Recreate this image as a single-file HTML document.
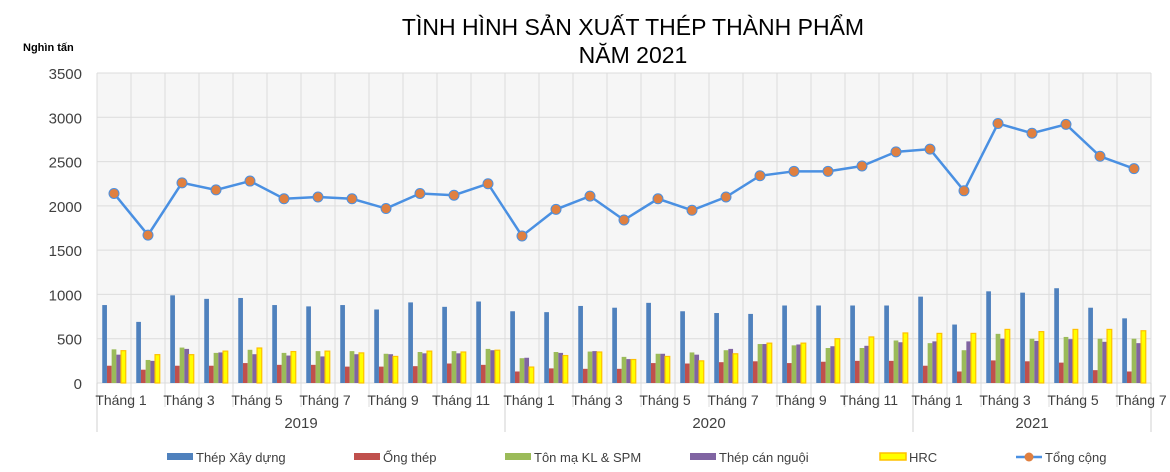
<!DOCTYPE html>
<html><head><meta charset="utf-8">
<style>
html,body{margin:0;padding:0;background:#fff;}
svg{display:block;font-family:"Liberation Sans",Arial,sans-serif;}
</style></head>
<body>
<svg id="chart" width="1170" height="472" viewBox="0 0 1170 472">
<text x="633" y="35" text-anchor="middle" font-size="23" fill="#000">TÌNH HÌNH SẢN XUẤT THÉP THÀNH PHẨM</text>
<text x="633" y="63" text-anchor="middle" font-size="23" fill="#000">NĂM 2021</text>
<text x="23" y="51" font-size="11" font-weight="bold" fill="#000">Nghìn tấn</text>
<rect x="97" y="73" width="1054" height="310" fill="#f6f6f6"/>
<g id="grid"></g><g id="bars"></g><g id="line"></g><g id="axes"></g><g id="legend"></g>
</svg>
<script>
const months = ["Tháng 1","Tháng 2","Tháng 3","Tháng 4","Tháng 5","Tháng 6","Tháng 7","Tháng 8","Tháng 9","Tháng 10","Tháng 11","Tháng 12","Tháng 1","Tháng 2","Tháng 3","Tháng 4","Tháng 5","Tháng 6","Tháng 7","Tháng 8","Tháng 9","Tháng 10","Tháng 11","Tháng 12","Tháng 1","Tháng 2","Tháng 3","Tháng 4","Tháng 5","Tháng 6","Tháng 7"];
const years = ["2019","2020","2021"];
const yearCounts = [12,12,7];
const construction = [880,690,990,950,960,880,865,880,830,910,860,920, 810,800,870,850,905,810,790,780,875,875,875,875, 975,660,1035,1020,1070,850,730];
const pipe = [195,150,195,195,225,205,205,185,185,190,220,205, 130,165,160,160,225,220,235,245,225,240,250,250, 195,130,255,245,230,145,130];
const coated = [380,260,400,340,375,340,360,360,330,350,360,385, 280,350,355,295,330,345,370,440,425,395,395,480, 450,370,555,500,520,500,500];
const coldRolled = [320,250,385,345,325,310,300,325,325,335,335,370, 285,340,360,270,330,320,385,440,435,415,420,460, 470,470,500,475,495,465,450];
const hrc = [365,320,320,360,395,355,360,340,300,360,350,370, 180,310,350,265,300,250,330,450,450,500,520,565, 560,560,605,580,605,605,590];
const total = [2140,1670,2260,2180,2280,2080,2100,2080,1970,2140,2120,2250, 1660,1960,2110,1840,2080,1950,2100,2340,2390,2390,2450,2610, 2640,2170,2930,2820,2920,2560,2420];
const yTicks = [0,500,1000,1500,2000,2500,3000,3500];

const NS="http://www.w3.org/2000/svg";
const L=97,R=1151,T=73,B=383,YMAX=3500;
const cw=(R-L)/months.length;
const xC=i=>L+cw*(i+0.5);
const y=v=>B-(v/YMAX)*(B-T);
function mk(tag,attrs,parent,txt){const e=document.createElementNS(NS,tag);for(const k in attrs)e.setAttribute(k,attrs[k]);if(txt!==undefined)e.textContent=txt;parent.appendChild(e);return e;}
const grid=document.getElementById('grid'),bars=document.getElementById('bars'),line=document.getElementById('line'),axes=document.getElementById('axes'),legend=document.getElementById('legend');

yTicks.forEach(t=>{
  const g=mk('line',{x1:L,x2:R,y1:y(t),y2:y(t),stroke:'#dcdcdc','stroke-width':1},grid);
  
  
  const tx=mk('text',{x:82,y:y(t)+6,'text-anchor':'end','font-size':15,fill:'#404040'},axes,String(t));
  
  
});
for(let i=0;i<=months.length;i++){
  const x=L+cw*i;
  const g=mk('line',{x1:x,x2:x,y1:T,y2:407,stroke:'#dcdcdc','stroke-width':1},grid);
  
  
}
let acc=0;
years.forEach((yr,k)=>{
  const x0=L+cw*acc, x1=L+cw*(acc+yearCounts[k]);
  const s=mk('line',{x1:x0,x2:x0,y1:383,y2:432,stroke:'#d0d0d0','stroke-width':1},axes);
  
  
  const t=mk('text',{x:(x0+x1)/2,y:428,'text-anchor':'middle','font-size':15,fill:'#404040'},axes,yr);
  
  
  acc+=yearCounts[k];
});
mk('line',{x1:R,x2:R,y1:383,y2:432,stroke:'#d0d0d0'},axes);
months.forEach((m,i)=>{
  if(i%2===0 && !(i===12 && false)){
    const idx = i<12?i:(i<24?i-12:i-24);
    if(idx%2===0){
      const t=mk('text',{x:xC(i)+7,y:405,'text-anchor':'middle','font-size':14,fill:'#404040'},axes,m);
      
      
    }
  }
});
// handle odd offsets: 2020 starts at index 12 (even), 2021 at 24 (even) - labels every other month
const series=[
  {d:construction,c:'#4f81bd',s:'none',n:'bar-construction'},
  {d:pipe,c:'#c0504d',s:'none',n:'bar-pipe'},
  {d:coated,c:'#9bbb59',s:'none',n:'bar-coated'},
  {d:coldRolled,c:'#8064a2',s:'none',n:'bar-cold-rolled'},
  {d:hrc,c:'#ffff00',s:'#ffc000',n:'bar-hrc'}
];
const bw=4.7;
series.forEach((se,k)=>{
  se.d.forEach((v,i)=>{
    const x=xC(i)-bw*2.5+k*bw;
    const r=mk('rect',{x:x,y:y(v),width:bw,height:B-y(v),fill:se.c},bars);
    if(se.s!=='none'){r.setAttribute('stroke',se.s);r.setAttribute('stroke-width',1.2);}
    
    
  });
});
const pts=total.map((v,i)=>xC(i)+','+y(v)).join(' ');
const pl=mk('polyline',{points:pts,fill:'none',stroke:'#4a90e2','stroke-width':2.5},line);


total.forEach((v,i)=>{
  const c=mk('circle',{cx:xC(i),cy:y(v),r:5,fill:'#e08040',stroke:'#4a90e2','stroke-width':1},line);
  
  
});
const leg=[
  {x:167,t:'Thép Xây dựng',c:'#4f81bd'},
  {x:354,t:'Ống thép',c:'#c0504d'},
  {x:505,t:'Tôn mạ KL & SPM',c:'#9bbb59'},
  {x:690,t:'Thép cán nguội',c:'#8064a2'},
  {x:880,t:'HRC',c:'#ffff00',s:'#ffc000'}
];
leg.forEach(l=>{
  const g=mk('g',{},legend);
  
  
  const r=mk('rect',{x:l.x,y:453,width:26,height:7,fill:l.c},g);
  if(l.s){r.setAttribute('stroke',l.s);r.setAttribute('stroke-width',1.5);}
  mk('text',{x:l.x+29,y:462,'font-size':13,fill:'#404040'},g,l.t);
});
const g2=mk('g',{},legend);


mk('line',{x1:1016,x2:1042,y1:457,y2:457,stroke:'#4a90e2','stroke-width':2.5},g2);
mk('circle',{cx:1029,cy:457,r:4.5,fill:'#e08040'},g2);
mk('text',{x:1045,y:462,'font-size':13,fill:'#404040'},g2,'Tổng cộng');
</script>
</body></html>
